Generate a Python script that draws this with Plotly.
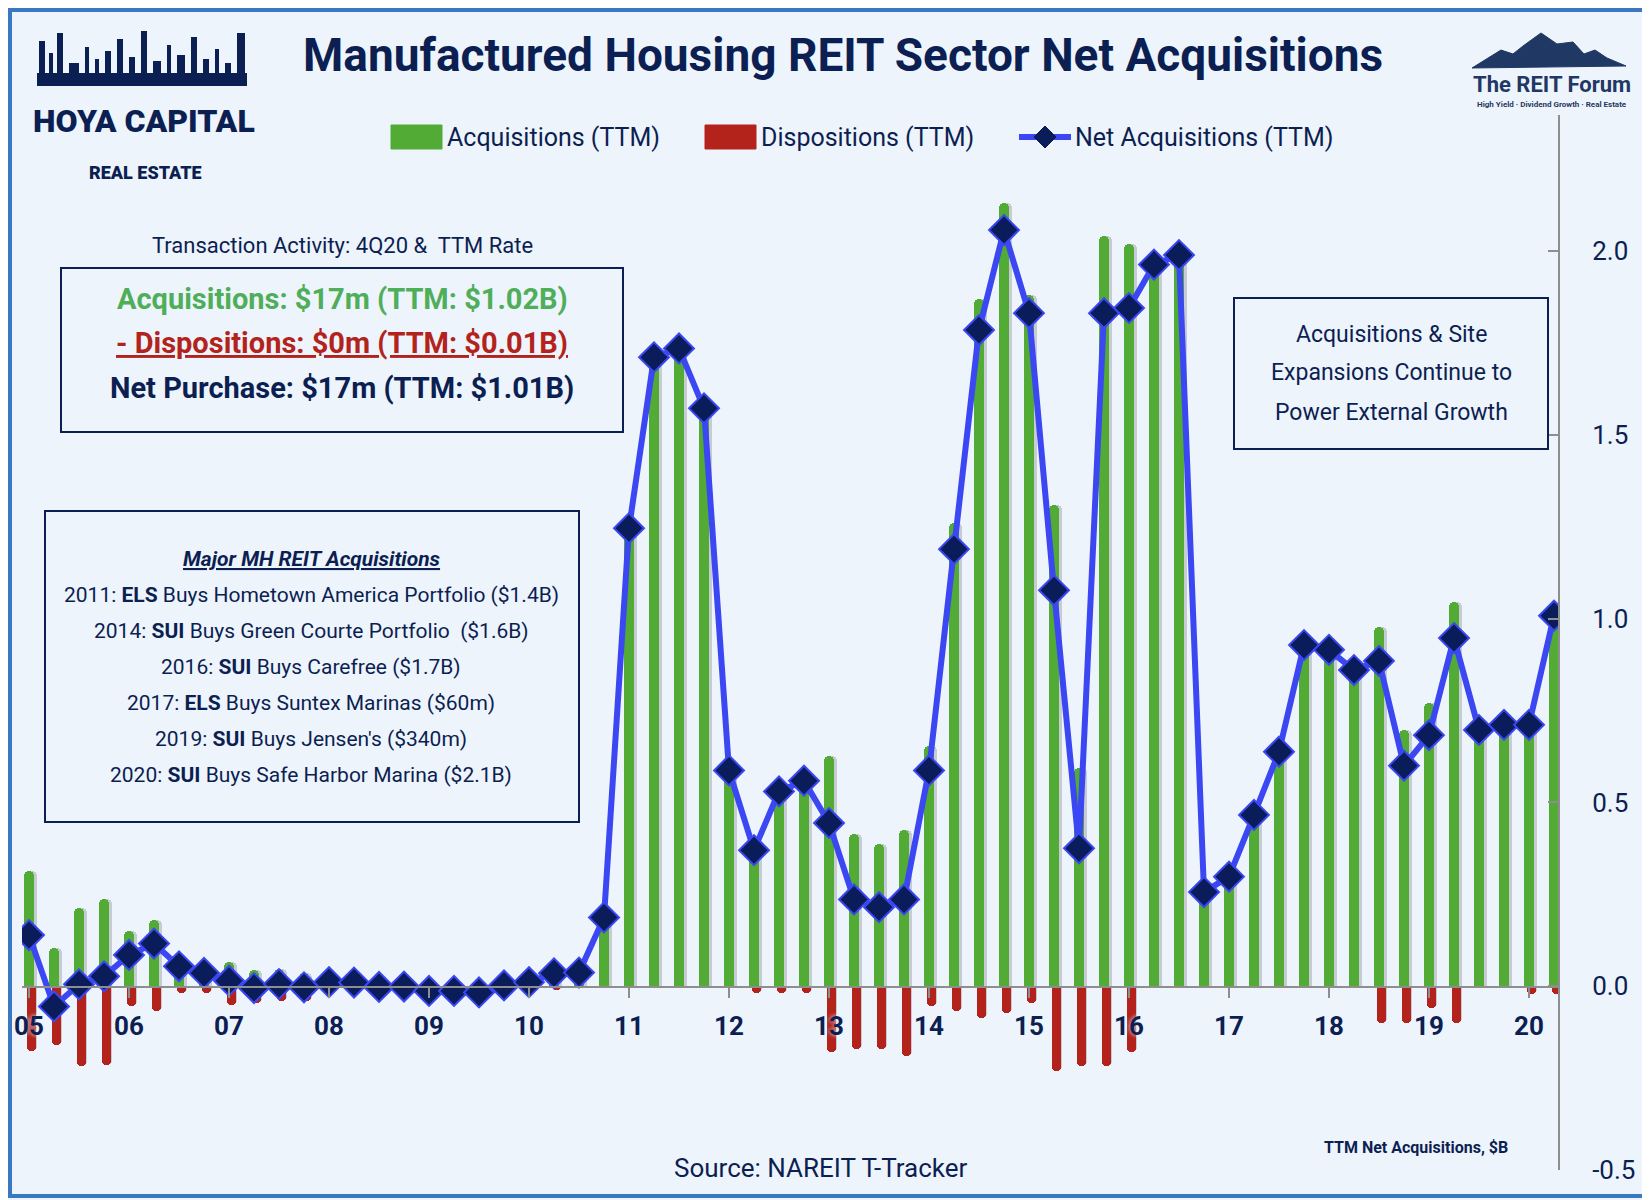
import plotly.graph_objects as go

# Quarterly TTM transaction totals, 3Q05 .. 4Q20 ($B)
quarters = [f"{q}Q{y:02d}" for y in range(5, 21) for q in range(1, 5)][2:]

acquisitions = [0.313, 0.104, 0.213, 0.236, 0.150, 0.181, 0.072, 0.054, 0.066, 0.044,
                0.047, 0.036, 0.016, 0.012, 0.006, 0.004, 0.001, 0.001, 0.001, 0.006,
                0.016, 0.046, 0.038, 0.190, 1.250, 1.715, 1.740, 1.575, 0.590, 0.388,
                0.548, 0.577, 0.626, 0.413, 0.387, 0.426, 0.653, 1.260, 1.870, 2.130,
                1.880, 1.310, 0.594, 2.040, 2.020, 1.963, 1.989, 0.256, 0.298, 0.466,
                0.638, 0.928, 0.915, 0.860, 0.978, 0.697, 0.770, 1.045, 0.697, 0.711,
                0.730, 1.020]

dispositions = [-0.177, -0.159, -0.218, -0.213, -0.054, -0.068, -0.018, -0.018, -0.050, -0.045,
                -0.041, -0.041, -0.004, -0.002, -0.008, -0.005, -0.014, -0.014, -0.018, -0.004,
                -0.004, -0.011, 0.0, 0.0, 0.0, 0.0, 0.0, 0.0, 0.0, -0.018,
                -0.018, -0.018, -0.180, -0.172, -0.172, -0.190, -0.053, -0.068, -0.086, -0.073,
                -0.045, -0.230, -0.218, -0.218, -0.180, 0.0, 0.0, 0.0, 0.0, 0.0,
                0.0, 0.0, 0.0, 0.0, -0.099, -0.099, -0.060, -0.099, 0.0, 0.0,
                -0.020, -0.020]

net_acquisitions = [0.139, -0.055, 0.005, 0.027, 0.085, 0.116, 0.054, 0.036, 0.015, -0.005,
                    0.006, -0.003, 0.011, 0.010, -0.002, -0.001, -0.013, -0.013, -0.017, 0.002,
                    0.011, 0.035, 0.037, 0.187, 1.246, 1.711, 1.735, 1.572, 0.587, 0.370,
                    0.530, 0.559, 0.444, 0.236, 0.215, 0.236, 0.587, 1.189, 1.785, 2.057,
                    1.831, 1.077, 0.375, 1.831, 1.845, 1.963, 1.989, 0.256, 0.298, 0.466,
                    0.638, 0.928, 0.915, 0.860, 0.885, 0.600, 0.683, 0.947, 0.697, 0.711,
                    0.711, 1.008]

year_ticks = [q for q in quarters if q.startswith("3Q")]
year_labels = [q[2:] for q in year_ticks]
y_ticks = [-0.5, 0.0, 0.5, 1.0, 1.5, 2.0]
y_labels = ["-0.5", "0.0", "0.5", "1.0", "1.5", "2.0"]

series_names = ["Acquisitions (TTM)", "Dispositions (TTM)", "Net Acquisitions (TTM)"]

# colours / fonts
NAVY = "#0c1f52"
GREEN = "#52ab34"
RED = "#b3231c"
BLUE = "#3b47f3"
MARKER = "#0a1d5a"
BG = "#eef4fb"
FONT = "Roboto, Open Sans, sans-serif"

W, H = 1650, 1200
L, R, T, B = 14, 1550, 107, 1162


def px(x):
    return (x - L) / (R - L)


def py(y):
    return (B - y) / (B - T)


fig = go.Figure()

# soft shadows behind the bars
for vals in (acquisitions, dispositions):
    fig.add_trace(go.Bar(
        x=quarters, y=vals, width=0.36, offset=-0.05,
        marker=dict(color="rgba(60,60,75,0.22)", cornerradius=5, line_width=0),
        showlegend=False, hoverinfo="skip"))

fig.add_trace(go.Bar(
    x=quarters, y=acquisitions, name=series_names[0], width=0.38, offset=-0.19,
    marker=dict(color=GREEN, cornerradius=5, line_width=0), showlegend=False))
fig.add_trace(go.Bar(
    x=quarters, y=dispositions, name=series_names[1], width=0.38, offset=-0.1,
    marker=dict(color=RED, cornerradius=5, line_width=0), showlegend=False))
fig.add_trace(go.Scatter(
    x=quarters, y=net_acquisitions, name=series_names[2], mode="lines+markers",
    line=dict(color=BLUE, width=6), showlegend=False,
    marker=dict(symbol="diamond", size=23, color=MARKER, line=dict(color=BLUE, width=2))))

fig.update_layout(
    width=W, height=H,
    margin=dict(l=L, r=W - R, t=T, b=H - B),
    paper_bgcolor=BG, plot_bgcolor=BG,
    barmode="overlay", bargap=0,
    font=dict(family=FONT, color=NAVY),
    showlegend=False,
)

fig.update_xaxes(
    type="category", range=[-0.28, 61.16], automargin=False,
    anchor="free", position=py(978.5),
    showline=True, linecolor="#8e8e8e", linewidth=2,
    ticks="outside", ticklen=10, tickwidth=2, tickcolor="#8e8e8e",
    tickvals=year_ticks, ticktext=year_labels, ticklabelstandoff=6,
    tickfont=dict(size=26, color=NAVY, weight="bold", family=FONT, shadow="0 0 4px " + BG),
    showgrid=False, zeroline=False,
)
fig.update_yaxes(
    side="right", range=[-0.5, 2.37], automargin=False,
    tickvals=y_ticks, ticktext=y_labels,
    showline=True, linecolor="#8e8e8e", linewidth=2,
    ticks="inside", ticklen=10, tickwidth=2, tickcolor="#8e8e8e",
    ticklabelstandoff=27,
    tickfont=dict(size=26, color=NAVY, family=FONT),
    showgrid=False, zeroline=False,
)

shapes = []
annotations = []


def text(x, y, s, size, color=NAVY, weight="normal", xanchor="center"):
    annotations.append(dict(x=px(x), y=py(y), xref="paper", yref="paper", text=s,
                            showarrow=False, xanchor=xanchor, yanchor="middle",
                            font=dict(size=size, color=color, family=FONT, weight=weight)))


def rect(x0, y0, x1, y1, line_color=NAVY, width=2, fill="rgba(0,0,0,0)"):
    shapes.append(dict(type="rect", xref="paper", yref="paper",
                       x0=px(x0), x1=px(x1), y0=py(y0), y1=py(y1),
                       line=dict(color=line_color, width=width), fillcolor=fill))


def poly(xs, ys, color):
    path = "M " + " L ".join(f"{px(a):.5f},{py(b):.5f}" for a, b in zip(xs, ys)) + " Z"
    shapes.append(dict(type="path", xref="paper", yref="paper", path=path,
                       fillcolor=color, line=dict(color=color, width=1)))


# outer frame
rect(2, 2, 1637, 1188, line_color="#3a78c2", width=4)

# title
text(835, 47, "Manufactured Housing REIT Sector Net Acquisitions", 46, weight="bold")

# legend (drawn by hand for the wide swatches)
leg_y = 129
rect(383, leg_y - 12, 434, leg_y + 12, line_color=GREEN, width=1, fill=GREEN)
text(437, leg_y, series_names[0], 25, xanchor="left")
rect(697, leg_y - 12, 748, leg_y + 12, line_color=RED, width=1, fill=RED)
text(751, leg_y, series_names[1], 25, xanchor="left")
shapes.append(dict(type="line", xref="paper", yref="paper", x0=px(1011), x1=px(1063),
                   y0=py(leg_y), y1=py(leg_y), line=dict(color=BLUE, width=6)))
poly([1037, 1048, 1037, 1026], [leg_y - 11, leg_y, leg_y + 11, leg_y], MARKER)
text(1065, leg_y, series_names[2], 25, xanchor="left")

# transaction activity box
text(334, 238, "Transaction Activity: 4Q20 &  TTM Rate", 22)
rect(53, 260, 615, 424)
text(334, 291, "Acquisitions: $17m (TTM: $1.02B)", 29, color="#4fae5a", weight="bold")
text(334, 335, "<u>- Dispositions: $0m (TTM: $0.01B)</u>", 29, color=RED, weight="bold")
text(334, 380, "Net Purchase: $17m (TTM: $1.01B)", 29, weight="bold")

# major acquisitions box
rect(37, 503, 571, 814)
deals = [
    "<b><i><u>Major MH REIT Acquisitions</u></i></b>",
    "2011: <b>ELS</b> Buys Hometown America Portfolio ($1.4B)",
    "2014: <b>SUI</b> Buys Green Courte Portfolio  ($1.6B)",
    "2016: <b>SUI</b> Buys Carefree ($1.7B)",
    "2017: <b>ELS</b> Buys Suntex Marinas ($60m)",
    "2019: <b>SUI</b> Buys Jensen's ($340m)",
    "2020: <b>SUI</b> Buys Safe Harbor Marina ($2.1B)",
]
for i, line in enumerate(deals):
    text(303, 551 + 36 * i, line, 21)

# right note box
rect(1226, 290, 1540, 441)
for i, line in enumerate(["Acquisitions & Site", "Expansions Continue to", "Power External Growth"]):
    text(1383, 326 + 39 * i, line, 23)

# footer
text(813, 1160, "Source: NAREIT T-Tracker", 26)
text(1502, 1139, "TTM Net Acquisitions, $B", 16, weight="bold", xanchor="right")

# Hoya Capital logo (simplified skyline + wordmark)
rect(29, 65, 239, 78, line_color=NAVY, width=0, fill=NAVY)
for x0, x1, top in [(31, 37, 33), (41, 45, 45), (49, 55, 25), (61, 71, 55), (77, 81, 39),
                    (87, 91, 51), (97, 103, 43), (109, 115, 31), (121, 127, 49), (133, 139, 23),
                    (145, 153, 53), (159, 163, 37), (169, 177, 47), (183, 189, 29), (195, 201, 51),
                    (207, 211, 41), (217, 223, 55), (229, 237, 25)]:
    rect(x0, top, x1, 78, line_color=NAVY, width=0, fill=NAVY)
text(136, 113, "HOYA CAPITAL", 32, weight=900)
text(137, 164, "REAL ESTATE", 18, weight=900)

# The REIT Forum logo (simplified)
poly([1464, 1493, 1505, 1515, 1533, 1549, 1565, 1576, 1587, 1599, 1618],
     [60, 42, 46, 38, 25, 36, 34, 46, 42, 50, 58], "#1f3864")
text(1544, 77, "The REIT Forum", 22, color="#1f3864", weight="bold")
text(1544, 97, "High Yield · Dividend Growth · Real Estate", 8, color="#1f3864", weight="bold")

fig.update_layout(shapes=shapes, annotations=annotations)

fig.write_html("out.html")
